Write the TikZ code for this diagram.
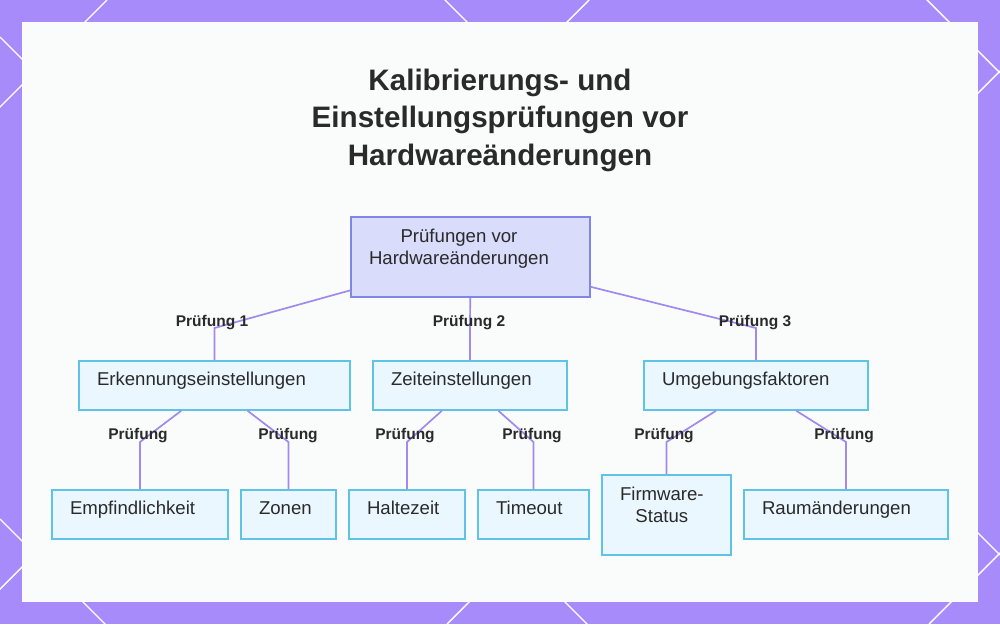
\documentclass[tikz,border=0pt]{standalone}
\usepackage{fontspec}
\setmainfont{Liberation Sans}
\definecolor{bgpurple}{HTML}{A78BFA}
\definecolor{panel}{HTML}{FAFBFB}
\definecolor{edgecol}{HTML}{A08AEE}
\definecolor{rootfill}{HTML}{D9DCFB}
\definecolor{rootline}{HTML}{7F86E8}
\definecolor{boxfill}{HTML}{EBF7FE}
\definecolor{boxline}{HTML}{5EC3E6}
\definecolor{txt}{HTML}{2A2A2A}
\newcommand\bxt[2]{\makebox[#1][l]{\begin{tabular}[t]{@{}c@{}}#2\end{tabular}}}
\tikzset{
  ibox/.style={draw=boxline, fill=boxfill, line width=1.6pt, inner xsep=18pt, inner ysep=0pt,
    text height=0pt, text depth=0pt, minimum height=49pt, text=txt,
    font=\fontsize{18.6}{22}\selectfont},
  rootbox/.style={ibox, draw=rootline, fill=rootfill, minimum height=80pt, text depth=30pt},
  tallbox/.style={ibox, minimum height=80pt, text depth=30pt},
  lbl/.style={anchor=base, inner sep=0pt, text=txt, font=\fontsize{15.5}{18}\selectfont\bfseries},
  edge/.style={draw=edgecol, line width=1.7pt},
  deco/.style={draw=white, line width=1.4pt},
  titlestyle/.style={align=center, text=txt, inner sep=0pt, font=\fontsize{29.6}{37.5}\selectfont\bfseries}
}
\begin{document}
\begin{tikzpicture}[x=1pt,y=-1pt]
\useasboundingbox (0,0) rectangle (1000,624);
\fill[bgpurple] (0,0) rectangle (1000,624);
\begin{scope}
  \clip (0,0) rectangle (1000,624);
  \foreach \c in {107,589,1071,1553} \draw[deco] (\c,0) -- ({\c-624},624);
  \foreach \d in {-927,-445,37,519} \draw[deco] (0,\d) -- (1000,{\d+1000});
\end{scope}
\fill[panel] (22,22) rectangle (978,602);

% title
\node[titlestyle] (title) at (500,120) {Kalibrierungs- und\\Einstellungsprüfungen vor\\Hardwareänderungen};

% nodes
\node[rootbox] (root) at (470.5,257) {\bxt{203pt}{Prüfungen vor\\Hardwareänderungen}};
\node[ibox] (n1) at (214.5,385.5) {\bxt{235pt}{Erkennungseinstellungen}};
\node[ibox] (n2) at (470,385.5) {\bxt{158pt}{Zeiteinstellungen}};
\node[ibox] (n3) at (756,385.5) {\bxt{188pt}{Umgebungsfaktoren}};
\node[ibox] (l11) at (140,514.5) {\bxt{140pt}{Empfindlichkeit}};
\node[ibox] (l12) at (288.5,514.5) {\bxt{59pt}{Zonen}};
\node[ibox] (l21) at (407,514.5) {\bxt{80pt}{Haltezeit}};
\node[ibox] (l22) at (533.5,514.5) {\bxt{75pt}{Timeout}};
\node[tallbox] (l31) at (666.5,515) {\bxt{93pt}{Firmware-\\Status}};
\node[ibox] (l32) at (846,514.5) {\bxt{168pt}{Raumänderungen}};

% elbows
\coordinate (e1) at (214.5,328);
\coordinate (e2) at (470,328);
\coordinate (e3) at (756,328);
\coordinate (e11) at (140,442);
\coordinate (e12) at (288.5,442);
\coordinate (e21) at (407,442);
\coordinate (e22) at (533.5,442);
\coordinate (e31) at (666.5,442);
\coordinate (e32) at (846,442);

% edges
\draw[edge] (root) -- (e1) -- (n1.north);
\draw[edge] (root) -- (e2) -- (n2.north);
\draw[edge] (root) -- (e3) -- (n3.north);
\draw[edge] (n1) -- (e11) -- (l11.north);
\draw[edge] (n1) -- (e12) -- (l12.north);
\draw[edge] (n2) -- (e21) -- (l21.north);
\draw[edge] (n2) -- (e22) -- (l22.north);
\draw[edge] (n3) -- (e31) -- (l31.north);
\draw[edge] (n3) -- (e32) -- (l32.north);

% labels
\node[lbl] (p1) at (212,326) {Prüfung 1};
\node[lbl] (p2) at (469,326) {Prüfung 2};
\node[lbl] (p3) at (755,326) {Prüfung 3};
\node[lbl] (p11) at (138,439) {Prüfung};
\node[lbl] (p12) at (288,439) {Prüfung};
\node[lbl] (p21) at (405,439) {Prüfung};
\node[lbl] (p22) at (532,439) {Prüfung};
\node[lbl] (p31) at (664,439) {Prüfung};
\node[lbl] (p32) at (844,439) {Prüfung};
\end{tikzpicture}
\end{document}
